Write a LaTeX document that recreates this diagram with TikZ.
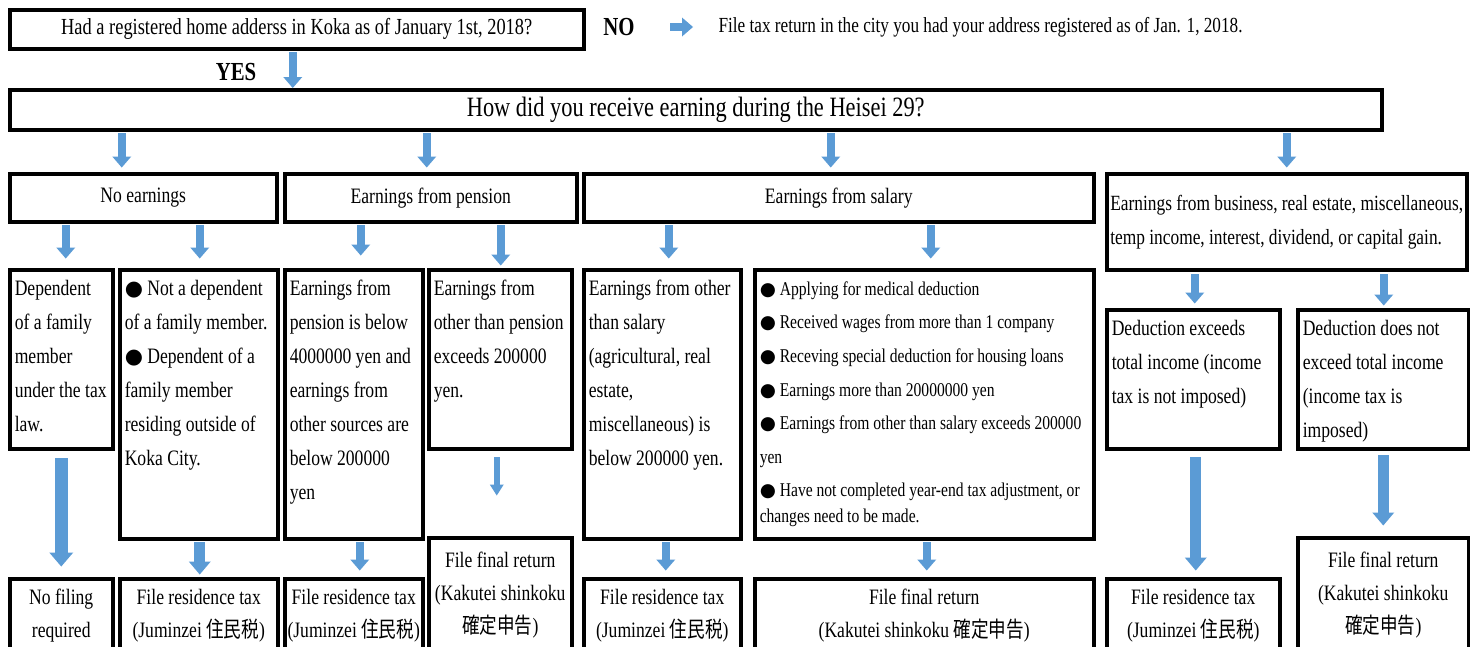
\documentclass[tikz,border=0pt]{standalone}
\usepackage{fontspec}
\setmainfont{Liberation Serif}[FakeStretch=0.8]
\newfontfamily\jpfont{Noto Sans CJK JP}[FakeStretch=0.8]
\newfontfamily\symfont{DejaVu Sans}[Scale=0.95]
\usetikzlibrary{arrows.meta}
\definecolor{arrowblue}{HTML}{5B9BD5}
\newcommand{\bulletmark}{{\symfont ●}\ }
\newcommand{\toptext}[3]{\parbox[t][#2][t]{#1}{\raggedright\strut #3}}
\tikzset{
  box/.style={draw, line width=3.5pt, anchor=north west, inner sep=0pt, align=center,
    font=\fontsize{22}{33}\selectfont},
  textbox/.style={draw, line width=3.5pt, anchor=north west, inner xsep=5pt, inner ysep=2pt,
    font=\fontsize{22}{34}\selectfont},
  flow/.style={draw=arrowblue, line width=8pt, shorten <=1.5pt,
    -{Triangle[width=19pt,length=11pt,line width=0pt]}},
  flowthin/.style={flow, line width=6pt, -{Triangle[width=14pt,length=11pt,line width=0pt]}},
  flowmid/.style={flow, line width=11pt, -{Triangle[width=22pt,length=13pt,line width=0pt]}},
  flowthick/.style={flow, line width=13pt, -{Triangle[width=24pt,length=14pt,line width=0pt]}},
}
\begin{document}
\begin{tikzpicture}[x=1pt,y=-1pt]
\useasboundingbox (0,0) rectangle (1470,646);
\clip (0,0) rectangle (1470,646);
\fill[white] (0,0) rectangle (1470,646);

\node[box, minimum width=574, minimum height=39, font=\fontsize{23}{33}\selectfont] (home) at (8,8)
  {Had a registered home adderss in Koka as of January 1st, 2018?};
\node[font=\fontsize{26}{30}\selectfont\bfseries] (no) at (619,27) {NO};
\node[anchor=west, font=\fontsize{21.5}{30}\selectfont] (elsewhere) at (715,27)
  {File tax return in the city you had your address registered as of Jan. 1, 2018.};
\node[font=\fontsize{26}{30}\selectfont\bfseries] (yes) at (236,72) {YES};
\node[box, minimum width=1372, minimum height=40, font=\fontsize{28}{34}\selectfont] (how) at (8,88)
  {How did you receive earning during the Heisei 29?};

% kinds of earnings
\node[box, minimum width=267, minimum height=48] (none) at (8,172) {No earnings};
\node[box, minimum width=292, minimum height=48] (pension) at (283,172) {Earnings from pension};
\node[box, minimum width=510, minimum height=48] (salary) at (582,172) {Earnings from salary};
\node[box, minimum width=360, minimum height=96, align=left,
  font=\fontsize{21.7}{34}\selectfont] (business) at (1105,172)
  {Earnings from business, real estate, miscellaneous,\\temp income, interest, dividend, or capital gain.};

% conditions
\node[textbox] (dep) at (8,268) {\toptext{93pt}{175pt}{Dependent\\of a family\\member\\under the tax\\law.}};
\node[textbox] (notdep) at (118,268) {\toptext{148pt}{265pt}{\bulletmark Not a dependent\\of a family member.\\
  \bulletmark Dependent of a\\family member\\residing outside of\\Koka City.}};
\node[textbox] (penlow) at (283,268) {\toptext{128pt}{265pt}{Earnings from\\pension is below\\4000000 yen and\\
  earnings from\\other sources are\\below 200000\\yen}};
\node[textbox] (penhigh) at (427,268) {\toptext{133pt}{175pt}{Earnings from\\other than pension\\exceeds 200000\\yen.}};
\node[textbox] (sallow) at (582,268) {\toptext{147pt}{265pt}{Earnings from other\\than salary\\(agricultural, real\\
  estate,\\miscellaneous) is\\below 200000 yen.}};
\node[textbox, font=\fontsize{19.5}{33.6}\selectfont] (salhigh) at (753,268) {\toptext{329pt}{265pt}{%
  \bulletmark Applying for medical deduction\\
  \bulletmark Received wages from more than 1 company\\
  \bulletmark Receving special deduction for housing loans\\
  \bulletmark Earnings more than 20000000 yen\\
  \bulletmark Earnings from other than salary exceeds 200000\\
  yen\\
  \bulletmark Have not completed year-end tax adjustment, or\\[-8pt]
  changes need to be made.}};
\node[textbox] (dedover) at (1105,308) {\toptext{163pt}{135pt}{Deduction exceeds\\total income (income\\tax is not imposed)}};
\node[textbox] (dedunder) at (1296,308) {\toptext{161pt}{135pt}{Deduction does not\\exceed total income\\(income tax is\\imposed)}};

% results
\node[box, minimum width=103, minimum height=74] (nofile) at (8,577) {No filing\\required};
\node[box, minimum width=158, minimum height=74] (res1) at (118,577) {File residence tax\\(Juminzei {\jpfont 住民税})};
\node[box, minimum width=138, minimum height=74] (res2) at (283,577) {File residence tax\\(Juminzei {\jpfont 住民税})};
\node[box, minimum width=143, minimum height=115] (fin1) at (427,536) {File final return\\(Kakutei shinkoku\\{\jpfont 確定申告})};
\node[box, minimum width=157, minimum height=74] (res3) at (582,577) {File residence tax\\(Juminzei {\jpfont 住民税})};
\node[box, minimum width=339, minimum height=74] (fin2) at (753,577) {File final return\\(Kakutei shinkoku {\jpfont 確定申告})};
\node[box, minimum width=173, minimum height=74] (res4) at (1105,577) {File residence tax\\(Juminzei {\jpfont 住民税})};
\node[box, minimum width=171, minimum height=115] (fin3) at (1296,536) {File final return\\(Kakutei shinkoku\\{\jpfont 確定申告})};

\draw[flow, shorten <=32pt, shorten >=22pt] (no.east) -- (no.east -| elsewhere.west);
\draw[flow] ([xshift=-4pt]home.south) -- ([xshift=-4pt]home.south |- how.north);
\draw[flow, shorten >=4.5pt] ([xshift=-574pt]how.south) -- ([xshift=-574pt]how.south |- none.north);
\draw[flow, shorten >=4.5pt] ([xshift=-269pt]how.south) -- ([xshift=-269pt]how.south |- pension.north);
\draw[flow, shorten >=4.5pt] ([xshift=135pt]how.south) -- ([xshift=135pt]how.south |- salary.north);
\draw[flow, shorten >=4.5pt] ([xshift=591pt]how.south) -- ([xshift=591pt]how.south |- business.north);

\draw[flow, shorten >=9.5pt] ([xshift=-77.5pt]none.south) -- ([xshift=-77.5pt]none.south |- dep.north);
\draw[flow, shorten >=9.5pt] ([xshift=56.5pt]none.south) -- ([xshift=56.5pt]none.south |- notdep.north);
\draw[flow, shorten >=12.5pt] ([xshift=-70pt]pension.south) -- ([xshift=-70pt]pension.south |- penlow.north);
\draw[flow, shorten >=2.5pt] ([xshift=70pt]pension.south) -- ([xshift=70pt]pension.south |- penhigh.north);
\draw[flow, shorten >=9.5pt] ([xshift=-170pt]salary.south) -- ([xshift=-170pt]salary.south |- sallow.north);
\draw[flow, shorten >=9.5pt] ([xshift=92pt]salary.south) -- ([xshift=92pt]salary.south |- salhigh.north);
\draw[flow, shorten <=2.5pt, shorten >=4.5pt] ([xshift=-92pt]business.south) -- ([xshift=-92pt]business.south |- dedover.north);
\draw[flow, shorten <=2.5pt, shorten >=2.5pt] ([xshift=97pt]business.south) -- ([xshift=97pt]business.south |- dedunder.north);

\draw[flowthick, shorten <=7.5pt, shorten >=10.5pt] (dep.south) -- (dep.south |- nofile.north);
\draw[flowmid, shorten >=2.5pt] ([xshift=1pt]notdep.south) -- ([xshift=1pt]notdep.south |- res1.north);
\draw[flow, shorten >=6.5pt] ([xshift=6pt]penlow.south) -- ([xshift=6pt]penlow.south |- res2.north);
\draw[flowthin, shorten <=6.5pt, shorten >=40.5pt] ([xshift=-3.5pt]penhigh.south) -- ([xshift=-3.5pt]penhigh.south |- fin1.north);
\draw[flow, shorten >=6.5pt] ([xshift=3.5pt]sallow.south) -- ([xshift=3.5pt]sallow.south |- res3.north);
\draw[flow, shorten >=6.5pt] ([xshift=2.5pt]salhigh.south) -- ([xshift=2.5pt]salhigh.south |- fin2.north);
\draw[flowmid, shorten <=6.5pt, shorten >=6.5pt] ([xshift=2.5pt]dedover.south) -- ([xshift=2.5pt]dedover.south |- res4.north);
\draw[flowmid, shorten <=4.5pt, shorten >=10.5pt] (dedunder.south) -- (dedunder.south |- fin3.north);
\end{tikzpicture}
\end{document}
